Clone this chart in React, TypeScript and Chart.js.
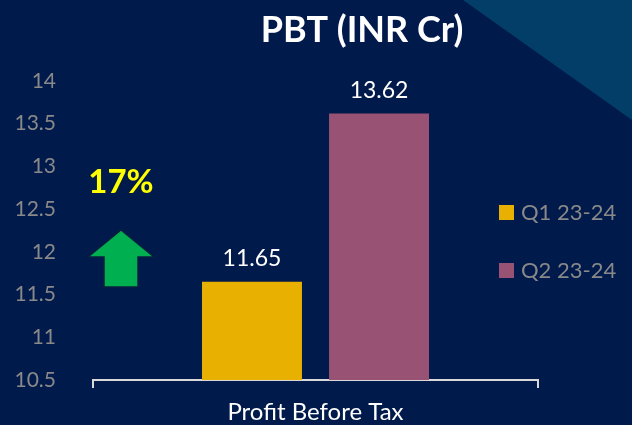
import React, { useEffect, useRef } from "react";
import { Chart, registerables } from "chart.js";

Chart.register(...registerables);

const categories = ["Profit Before Tax"];
const seriesNames = ["Q1 23-24", "Q2 23-24"];
const q1Values = [11.65];
const q2Values = [13.62];
const seriesColors = ["#e8b000", "#985273"];
const chartTitle = "PBT (INR Cr)";
const growthLabel = "17%";
const yMin = 10.5;
const yMax = 14;
const yStep = 0.5;

const FONT = "Lato, 'Open Sans', sans-serif";

const decorPlugin = {
  id: "decor",
  beforeDraw(chart: any) {
    const { ctx, width, height } = chart;
    ctx.save();
    ctx.fillStyle = "#001a4c";
    ctx.fillRect(0, 0, width, height);
    ctx.fillStyle = "#033e68";
    ctx.beginPath();
    ctx.moveTo(463, 0);
    ctx.lineTo(width, 0);
    ctx.lineTo(width, 120);
    ctx.closePath();
    ctx.fill();
    ctx.restore();
  },
  afterDraw(chart: any) {
    const { ctx } = chart;
    ctx.save();
    // title
    ctx.fillStyle = "#ffffff";
    ctx.font = `bold 36px ${FONT}`;
    ctx.textAlign = "center";
    ctx.textBaseline = "middle";
    ctx.fillText(chartTitle, 362, 30);
    // growth text
    ctx.fillStyle = "#ffff00";
    ctx.font = `bold 33px ${FONT}`;
    ctx.fillText(growthLabel, 121, 182);
    // arrow
    ctx.fillStyle = "#00b050";
    ctx.strokeStyle = "#0b1f3f";
    ctx.lineWidth = 1.5;
    ctx.beginPath();
    ctx.moveTo(121, 230);
    ctx.lineTo(154, 257);
    ctx.lineTo(138, 257);
    ctx.lineTo(138, 287);
    ctx.lineTo(104, 287);
    ctx.lineTo(104, 257);
    ctx.lineTo(88, 257);
    ctx.closePath();
    ctx.fill();
    ctx.stroke();
    // legend
    const ds = chart.data.datasets;
    ctx.font = `22px ${FONT}`;
    ctx.textAlign = "left";
    ctx.textBaseline = "middle";
    ds.forEach((d: any, i: number) => {
      const y = 212 + i * 58;
      ctx.fillStyle = d.backgroundColor;
      ctx.fillRect(499, y - 7, 15, 15);
      ctx.fillStyle = "#898989";
      ctx.fillText(d.label, 521, y + 1);
    });
    ctx.restore();
  },
  afterDatasetsDraw(chart: any) {
    const { ctx } = chart;
    ctx.save();
    ctx.fillStyle = "#ffffff";
    ctx.font = `23px ${FONT}`;
    ctx.textAlign = "center";
    ctx.textBaseline = "middle";
    chart.data.datasets.forEach((d: any, i: number) => {
      const meta = chart.getDatasetMeta(i);
      meta.data.forEach((el: any, j: number) => {
        ctx.fillText(d.data[j].toFixed(2), el.x, el.y - 23);
      });
    });
    ctx.restore();
  },
};

export default function App() {
  const ref = useRef<HTMLCanvasElement | null>(null);
  useEffect(() => {
    if (!ref.current) return;
    const chart = new Chart(ref.current, {
      type: "bar",
      data: {
        labels: categories,
        datasets: [
          { label: seriesNames[0], data: q1Values, backgroundColor: seriesColors[0] },
          { label: seriesNames[1], data: q2Values, backgroundColor: seriesColors[1] },
        ],
      },
      options: {
        responsive: false,
        animation: false,
        devicePixelRatio: 1,
        categoryPercentage: 0.571,
        barPercentage: 0.787,
        layout: { padding: { top: 81, right: 94, left: 0, bottom: 0 } },
        plugins: { legend: { display: false }, title: { display: false }, tooltip: { enabled: false } },
        scales: {
          x: {
            afterFit: (s: any) => { s.height = 45; },
            grid: { display: true, drawOnChartArea: false, drawTicks: true, tickLength: 8, color: "#d9d9d9", lineWidth: 2 },
            border: { display: true, color: "#d9d9d9", width: 2 },
            ticks: { color: "#ffffff", font: { family: FONT, size: 24 }, padding: 10 },
          },
          y: {
            min: yMin,
            max: yMax,
            afterFit: (s: any) => { s.width = 93; },
            grid: { display: false },
            border: { display: false },
            ticks: {
              stepSize: yStep,
              color: "#898989",
              font: { family: FONT, size: 21 },
              padding: 29,
              callback: (v: any) => String(Number(v)),
            },
          },
        },
      } as any,
      plugins: [decorPlugin],
    });
    return () => chart.destroy();
  }, []);
  return (
    <div style={{ position: "absolute", left: 0, top: 0, width: 632, height: 425 }}>
      <canvas ref={ref} width={632} height={425} />
    </div>
  );
}
